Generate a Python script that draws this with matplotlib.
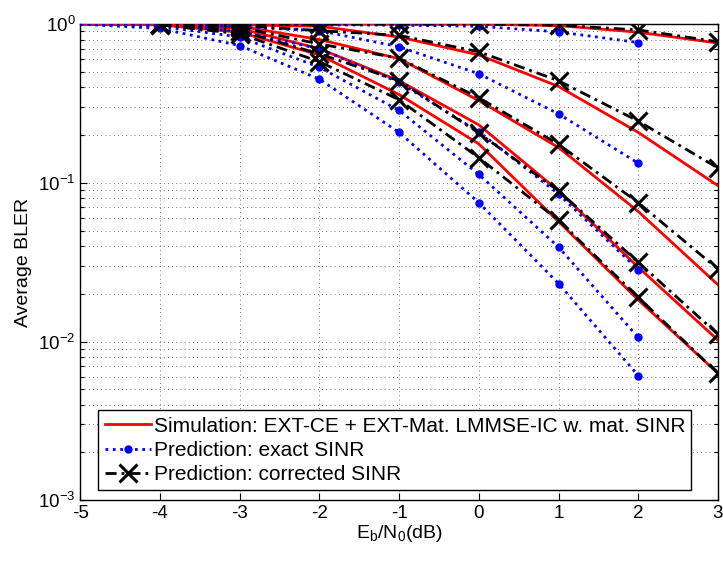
import matplotlib
matplotlib.use("Agg")
import matplotlib.pyplot as plt
from matplotlib.ticker import LogLocator, NullFormatter

# Eb/N0 points (dB)
snr_sim = [-5, -4, -3, -2, -1, 0, 1, 2, 3]
snr_exact = [-5, -4, -3, -2, -1, 0, 1, 2]
snr_corr = [-4, -3, -2, -1, 0, 1, 2, 3]

# simulated BLER, one list per configuration
sim_a = [1.0, 1.0, 1.0, 1.0, 1.0, 1.0, 0.98, 0.89, 0.76]
sim_b = [1.0, 1.0, 0.99, 0.97, 0.83, 0.64, 0.405, 0.208, 0.096]
sim_c = [1.0, 1.0, 0.97, 0.80, 0.606, 0.33, 0.167, 0.066, 0.0228]
sim_d = [1.0, 1.0, 0.94, 0.70, 0.44, 0.232, 0.089, 0.0294, 0.0102]
sim_e = [1.0, 0.99, 0.89, 0.64, 0.36, 0.176, 0.057, 0.0183, 0.0063]

# prediction with exact SINR
exact_a = [1.0, 1.0, 1.0, 0.99, 0.985, 0.97, 0.894, 0.766]
exact_b = [1.0, 1.0, 0.96, 0.91, 0.72, 0.487, 0.272, 0.133]
exact_c = [1.0, 0.99, 0.90, 0.70, 0.43, 0.21, 0.085, 0.0284]
exact_d = [1.0, 0.97, 0.83, 0.535, 0.286, 0.113, 0.0394, 0.0106]
exact_e = [1.0, 0.94, 0.733, 0.45, 0.208, 0.075, 0.0232, 0.0061]

# prediction with corrected SINR
corr_a = [1.0, 1.0, 1.0, 1.0, 1.0, 0.985, 0.92, 0.775]
corr_b = [1.0, 0.98, 0.91, 0.85, 0.67, 0.44, 0.245, 0.124]
corr_c = [1.0, 0.955, 0.75, 0.61, 0.344, 0.175, 0.075, 0.0286]
corr_d = [1.0, 0.91, 0.65, 0.44, 0.206, 0.089, 0.0316, 0.0111]
corr_e = [0.99, 0.87, 0.58, 0.334, 0.144, 0.058, 0.019, 0.0063]

labels = ["Simulation: EXT-CE + EXT-Mat. LMMSE-IC w. mat. SINR",
          "Prediction: exact SINR",
          "Prediction: corrected SINR"]


def main():
    plt.rcParams["font.family"] = ["Liberation Sans", "DejaVu Sans"]
    plt.rcParams["axes.unicode_minus"] = False

    fig = plt.figure(figsize=(7.23, 5.62), dpi=100)
    ax = fig.add_axes([0.111, 0.11, 0.882, 0.847])

    handles = []
    for i, ys in enumerate([sim_a, sim_b, sim_c, sim_d, sim_e]):
        h, = ax.plot(snr_sim, ys, color="red", lw=2, zorder=3)
        if i == 0:
            handles.append(h)
    for i, ys in enumerate([exact_a, exact_b, exact_c, exact_d, exact_e]):
        h, = ax.plot(snr_exact, ys, color="blue", lw=2, ls=":",
                     marker=".", ms=10, markevery=slice(1, None), zorder=4)
        if i == 0:
            handles.append(h)
    for i, ys in enumerate([corr_a, corr_b, corr_c, corr_d, corr_e]):
        h, = ax.plot(snr_corr, ys, color="black", lw=2,
                     ls=(0, (4, 1.8, 1, 1.8)),
                     marker="x", ms=13, mew=2.2, zorder=5)
        if i == 0:
            handles.append(h)

    ax.set_yscale("log")
    ax.set_xlim(-5, 3)
    ax.set_ylim(1e-3, 1)
    ax.set_xticks(range(-5, 4))
    ax.yaxis.set_major_locator(LogLocator(base=10, numticks=10))
    ax.yaxis.set_minor_locator(LogLocator(base=10, subs=range(2, 10), numticks=20))
    ax.yaxis.set_minor_formatter(NullFormatter())

    ax.grid(True, which="major", ls=(0, (1, 4)), color="0.3", lw=0.6)
    ax.grid(True, which="minor", axis="y", ls=(0, (1, 4)), color="0.3", lw=0.6)
    ax.tick_params(which="both", direction="in", top=True, right=True,
                   labelsize=13.5, width=0.8)
    ax.tick_params(which="minor", length=3)
    ax.tick_params(which="major", length=5)
    for sp in ax.spines.values():
        sp.set_linewidth(1.0)

    ax.set_xlabel("E$_\\mathregular{b}$/N$_\\mathregular{0}$(dB)", fontsize=14,
                  labelpad=1)
    ax.set_ylabel("Average BLER", fontsize=14, labelpad=4)

    leg = ax.legend(handles, labels, loc="lower left",
                    bbox_to_anchor=(0.022, 0.012), fontsize=15,
                    handlelength=2.2, handletextpad=0.15, borderpad=0.3,
                    labelspacing=0.25, borderaxespad=0.2,
                    fancybox=False, framealpha=1)
    leg.get_frame().set_edgecolor("black")
    leg.get_frame().set_linewidth(1.0)

    fig.savefig("out.png", dpi=100)


if __name__ == "__main__":
    main()
